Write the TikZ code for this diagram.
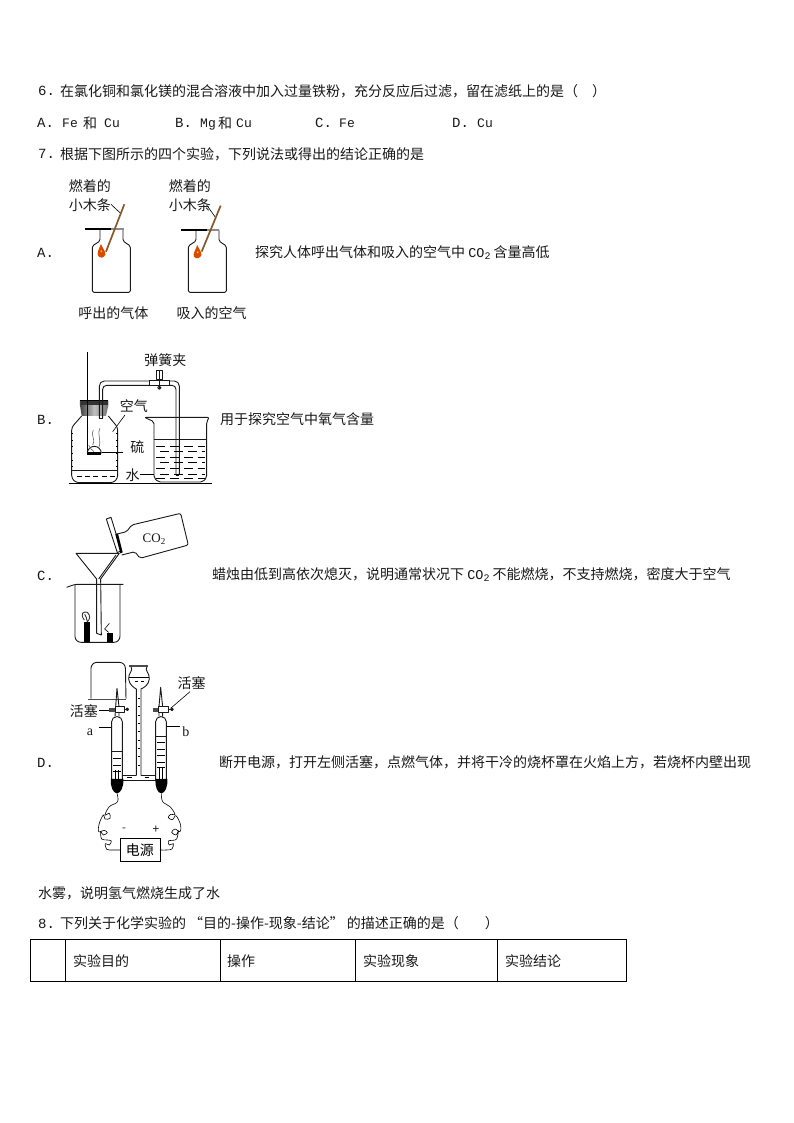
\documentclass[tikz,border=0pt]{standalone}
\usepackage{fontspec}
\setmainfont{Noto Sans CJK SC}
\setmonofont{Liberation Mono}
\newfontfamily\serifco{Liberation Serif}
\newcommand{\lat}[1]{{\ttfamily\fontsize{13}{13}\selectfont #1}}
\newcommand{\lbl}[1]{{\ttfamily\fontsize{14}{14}\selectfont #1}}
\newcommand{\cotwo}{{\ttfamily\fontsize{13.5}{13.5}\selectfont CO}{\fontsize{10}{10}\selectfont\raisebox{-2pt}{\ttfamily 2}}\hspace{3pt}}
\tikzset{
  txt/.style={anchor=west,inner sep=0pt,font=\fontsize{14}{14}\selectfont,text=black!90},
  ltxt/.style={anchor=base west,inner sep=0pt,text=black!90,yshift=-5pt},
  lab/.style={inner sep=0pt,font=\fontsize{14}{14}\selectfont,text=black!90},
  thin line/.style={draw=black,line width=.6pt},
  obj/.style={draw=black!90,line width=.9pt,line join=round},
  lead/.style={draw=black,line width=.6pt},
  dash row/.style={draw=black,line width=.6pt,dash pattern=on 9pt off 5pt},
  grid line/.style={draw=black,line width=1pt},
  za/.style={shift={(30,170)},x=.3333pt,y=-.3333pt},
  zb/.style={shift={(30,340)},x=.3333pt,y=-.3333pt},
  zc/.style={shift={(30,505)},x=.3333pt,y=-.3333pt},
  zd/.style={shift={(50,655)},x=.3333pt,y=-.3333pt},
}
\begin{document}
\begin{tikzpicture}[x=1pt,y=-1pt]
\useasboundingbox (0,0) rectangle (794,1123);
\fill[white] (0,0) rectangle (794,1123);
% ---------- question text
\node[ltxt] (q6n) at (38,91) {\lbl{6.}};
\node[txt] (q6) at (60,91) {在氯化铜和氯化镁的混合溶液中加入过量铁粉，充分反应后过滤，留在滤纸上的是（\hspace{14pt}）};
\node[ltxt] (o1a) at (37,123) {\lbl{A.}};
\node[ltxt] (o1b) at (62,123) {\lat{Fe}};
\node[txt] (o1c) at (83,123) {和};
\node[ltxt] (o1d) at (104,123) {\lat{Cu}};
\node[ltxt] (o2a) at (175,123) {\lbl{B.}};
\node[ltxt] (o2b) at (200,123) {\lat{Mg}};
\node[txt] (o2c) at (218,123) {和};
\node[ltxt] (o2d) at (236,123) {\lat{Cu}};
\node[ltxt] (o3a) at (315,123) {\lbl{C.}};
\node[ltxt] (o3b) at (339,123) {\lat{Fe}};
\node[ltxt] (o4a) at (452,123) {\lbl{D.}};
\node[ltxt] (o4b) at (477,123) {\lat{Cu}};
\node[ltxt] (q7n) at (38,154) {\lbl{7.}};
\node[txt] (q7) at (60,154) {根据下图所示的四个实验，下列说法或得出的结论正确的是};
\node[ltxt] (la) at (37,253) {\lbl{A.}};
\node[txt] (ta) at (255,253) {探究人体呼出气体和吸入的空气中 \cotwo{}含量高低};
\node[ltxt] (lb) at (37,419) {\lbl{B.}};
\node[txt] (tb) at (220,419) {用于探究空气中氧气含量};
\node[ltxt] (lc) at (37,575) {\lbl{C.}};
\node[txt] (tc) at (212,575) {蜡烛由低到高依次熄灭，说明通常状况下 \cotwo{}不能燃烧，不支持燃烧，密度大于空气};
\node[ltxt] (ld) at (37,762) {\lbl{D.}};
\node[txt] (td) at (219,762) {断开电源，打开左侧活塞，点燃气体，并将干冷的烧杯罩在火焰上方，若烧杯内壁出现};
\node[txt] (td2) at (38,893) {水雾，说明氢气燃烧生成了水};
\node[ltxt] (q8n) at (38,923) {\lbl{8.}};
\node[txt] (q8) at (60,923) {下列关于化学实验的\hspace{3pt}“目的-操作-现象-结论”\hspace{3pt}的描述正确的是（\hspace{26pt}）};
% ---------- table
\draw[grid line] (30,939) rectangle (626,981);
\foreach \cx in {65,220,355,497} \draw[grid line] (\cx,939) -- (\cx,981);
\node[txt] (c1) at (73,961) {实验目的};
\node[txt] (c2) at (227,961) {操作};
\node[txt] (c3) at (363,961) {实验现象};
\node[txt] (c4) at (505,961) {实验结论};
% ---------- A
\begin{scope}[za]
  \node[lab] (a1) at (180,48) {燃着的};
  \node[lab] (a2) at (180,105) {小木条};
  \node[lab] (a3) at (480,48) {燃着的};
  \node[lab] (a4) at (480,105) {小木条};
  \node[lab] (a5) at (250,430) {呼出的气体};
  \node[lab] (a6) at (545,430) {吸入的空气};
  \draw[lead] (243,103) -- (272,130);
  \draw[lead] (530,105) -- (555,140);
  % jar 1
  \draw[obj,rounded corners=1.5pt] (210,180) -- (210,213) -- (187,228) -- (187,367) -- (301,367) -- (301,228) -- (279,213) -- (279,180);
  \draw[line width=2.2pt,black] (165,178) -- (243,178);
  \draw[line width=2.2pt,black!45] (243,178) -- (281,178);
  \draw[line width=1.7pt,brown!70!black] (283,103) -- (228,245);
  \fill[orange!70!red!85!black] (213,222) .. controls (205,240) and (200,250) .. (205,258) .. controls (210,266) and (222,264) .. (226,254) .. controls (228,245) and (218,235) .. (213,222);
  \fill[yellow!70!orange] (214,244) circle (3);
  % jar 2
  \draw[obj,rounded corners=1.5pt] (498,180) -- (498,213) -- (475,228) -- (475,367) -- (589,367) -- (589,228) -- (567,213) -- (567,180);
  \draw[line width=2.2pt,black] (452,180) -- (530,180);
  \draw[line width=2.2pt,black!45] (530,180) -- (568,180);
  \draw[line width=1.7pt,brown!70!black] (572,107) -- (515,245);
  \fill[orange!70!red!85!black] (502,225) .. controls (495,243) and (488,252) .. (492,260) .. controls (497,268) and (510,266) .. (514,256) .. controls (516,247) and (507,238) .. (502,225);
  \fill[yellow!70!orange] (503,247) circle (3);
\end{scope}
% ---------- B
\begin{scope}[zb]
  \node[lab] (b1) at (406,60) {弹簧夹};
  \node[lab] (b2) at (312,197) {空气};
  \node[lab] (b3) at (322,320) {硫};
  \node[lab] (b4) at (308,405) {水};
  \draw[lead] (285,225) -- (248,275);
  \draw[lead] (215,338) -- (280,338);
  \draw[lead] (330,403) -- (372,403);
  % jar
  \draw[obj,rounded corners=3pt] (155,228) -- (125,262) -- (125,415) -- (138,428) -- (250,428) -- (263,415) -- (263,262) -- (235,228);
  \draw[obj] (125,392) -- (263,392);
  \foreach \tx in {140,165,190,215,240} \draw[thin line] (\tx,410) -- (\tx+15,410);
  \foreach \ty in {280,300,320,340,360,380} {\draw[thin line] (125,\ty) -- (130,\ty); \draw[thin line] (263,\ty) -- (258,\ty);}
  % stopper
  \shade[left color=black!75,right color=black!55,middle color=black!25] (150,182) -- (235,182) -- (235,196) -- (228,228) -- (155,228) -- (150,196) -- cycle;
  \draw[black,line width=1.2pt] (150,182) -- (235,182);
  \fill[black!80] (152,182) rectangle (233,194);
  % glass rod and spoon
  \draw[black,line width=.7pt] (172,36) -- (172,340);
  \draw[obj] (172,340) arc[start angle=180,end angle=360,radius=21];
  \fill[black] (172,336) rectangle (214,344);
  \draw[thin line,black!60] (190,270) .. controls (180,285) and (198,295) .. (188,315);
  \draw[thin line,black!60] (210,265) .. controls (200,285) and (216,295) .. (206,325);
  \draw[thin line,black!60] (176,315) .. controls (182,325) and (184,330) .. (192,335);
  % delivery tube
  \draw[obj,rounded corners=5pt] (208,235) -- (208,123) -- (448,123) -- (448,405);
  \draw[obj,rounded corners=4pt] (218,235) -- (218,136) -- (438,136) -- (438,405);
  \draw[obj] (208,235) -- (218,235);
  \draw[obj] (438,405) -- (448,405);
  % clip
  \draw[obj,fill=white] (358,122) rectangle (418,136);
  \draw[obj,fill=white] (380,92) rectangle (397,118);
  \draw[obj] (388,92) -- (388,148);
  \draw[obj] (388,143) circle (5);
  % beaker
  \draw[obj,rounded corners=2pt] (343,232) -- (538,232) -- (530,245) -- (530,413) -- (518,426) -- (385,426) -- (372,413) -- (372,245) -- cycle;
  \draw[obj] (372,298) -- (530,298);
  \foreach \ty/\xs in {318/378,335/390,352/378,368/390,385/378,402/390,415/378}
     \draw[dash row] (\xs,\ty) -- (525,\ty);
  \draw[black,line width=1.6pt] (117,431) -- (545,431);
\end{scope}
% ---------- C
\begin{scope}[zc]
  \node[lab,font=\serifco\fontsize{13}{13}\selectfont] (c5) at (372,103) {CO\raisebox{-2pt}{\fontsize{9}{9}\selectfont 2}};
  % bottle
  \draw[obj,fill=white] (229,42) -- (243,37) -- (274,137) -- (262,143) -- cycle;
  \draw[obj,rounded corners=2pt] (258,88) -- (290,80) -- (305,60) -- (452,25) -- (475,120) -- (330,160) -- (315,140) -- (275,150);
  \fill[black] (256,88) -- (264,86) -- (278,142) -- (271,145) -- cycle;
  % funnel
  \draw[obj] (138,145) -- (268,145) -- (212,222) -- (214,390) -- (200,385) -- (200,222) -- cycle;
  \draw[obj] (258,150) -- (206,222);
  % beaker
  \draw[obj,rounded corners=2pt] (110,247) -- (135,238) -- (280,238);
  \draw[obj,rounded corners=6pt] (135,238) -- (135,412) -- (270,412) -- (270,238);
  \fill[black] (162,352) rectangle (180,412);
  \fill[black] (232,385) rectangle (248,412);
  \draw[obj,black!80] (163,345) .. controls (148,325) and (162,318) .. (172,322) .. controls (182,330) and (180,345) .. (172,350) .. controls (168,340) and (170,332) .. (164,328);
  \draw[thin line] (238,355) -- (224,372) -- (236,382);
\end{scope}
% ---------- D
\begin{scope}[zd]
  \node[lab] (d1) at (102,168) {活塞};
  \node[lab] (d2) at (425,85) {活塞};
  \node[lab,font=\serifco\fontsize{14}{14}\selectfont] (d3) at (120,233) {a};
  \node[lab,font=\serifco\fontsize{14}{14}\selectfont] (d4) at (408,230) {b};
  \node[lab,font=\fontsize{11}{11}\selectfont] (d5) at (222,525) {-};
  \node[lab,font=\fontsize{12}{12}\selectfont] (d6) at (318,525) {+};
  \node[draw=black,line width=.9pt,minimum width=40pt,minimum height=23pt,inner sep=0pt,font=\fontsize{14}{14}\selectfont] (pw) at (270,586) {电源};
  \draw[lead] (148,165) -- (180,165);
  \draw[lead] (420,110) -- (362,160);
  \draw[lead] (147,217) -- (185,217);
  \draw[lead] (349,215) -- (390,215);
  % bell
  \draw[obj,rounded corners=6pt] (123,131) -- (123,22) -- (226,22) -- (228,131);
  \draw[black!70,line width=1.5pt] (115,133) -- (228,133);
  % funnel
  \draw[black!70,line width=1.5pt] (238,33) -- (295,33);
  \draw[obj] (243,35) .. controls (252,45) and (234,55) .. (236,72) .. controls (238,90) and (252,98) .. (259,102) -- (259,362);
  \draw[obj] (291,35) .. controls (282,45) and (300,55) .. (298,72) .. controls (296,90) and (282,98) .. (273,102) -- (273,362);
  \draw[thin line] (238,68) -- (296,68);
  \draw[thin line] (255,78) -- (265,78);
  \draw[thin line] (272,78) -- (282,78);
  \foreach \ty in {130,155,180,205,230,255,280,305,330} \draw[thin line] (263,\ty) -- (269,\ty);
  % left tube
  \draw[obj,rounded corners=5pt] (185,375) -- (185,185) -- (217,185) -- (217,375);
  \draw[obj] (195,185) -- (197,155) -- (201,100) -- (207,155) -- (207,185);
  \draw[obj] (185,290) -- (217,290);
  \foreach \ty in {310,330,348} \draw[thin line] (190,\ty) -- (212,\ty);
  \draw[thin line] (196,345) -- (196,375);
  \draw[thin line] (206,345) -- (206,375);
  % right tube
  \draw[obj,rounded corners=5pt] (317,375) -- (317,185) -- (349,185) -- (349,375);
  \draw[obj] (327,185) -- (327,155) -- (332,97) -- (338,155) -- (338,185);
  \draw[obj] (317,245) -- (349,245);
  \foreach \ty in {262,282,302,322,338} \draw[thin line] (322,\ty) -- (345,\ty);
  \draw[thin line] (327,340) -- (327,375);
  \draw[thin line] (338,340) -- (338,375);
  % connection
  \draw[obj] (217,360) -- (259,360);
  \draw[obj] (273,360) -- (317,360);
  \draw[obj] (217,376) -- (317,376);
  \draw[thin line] (232,368) -- (245,368);
  \draw[thin line] (285,368) -- (298,368);
  % clamps
  \fill[black!70] (178,158) rectangle (195,170);
  \draw[obj,fill=white] (195,155) rectangle (222,172);
  \draw[obj] (222,163) -- (235,163);
  \draw[obj] (232,163) circle (4);
  \fill[black!70] (310,158) rectangle (325,170);
  \draw[obj,fill=white] (325,155) rectangle (355,172);
  \draw[obj] (355,163) -- (370,163);
  \draw[obj] (366,163) circle (4);
  % electrodes
  \fill[black] (183,372) -- (220,372) .. controls (222,395) and (212,415) .. (201,415) .. controls (190,415) and (180,395) .. (183,372) -- cycle;
  \fill[black] (317,372) -- (352,372) .. controls (354,395) and (345,415) .. (334,415) .. controls (323,415) and (314,395) .. (317,372) -- cycle;
  % wires
  \draw[lead] plot[smooth,tension=.6] coordinates {(201,415) (203,440) (178,455) (165,480) (178,475) (180,490) (165,492) (160,480) (148,505) (146,530) (162,526) (172,533) (160,540) (152,530) (155,552) (172,555) (184,558) (178,570) (166,566) (170,583) (190,585) (210,585)};
  \draw[lead] plot[smooth,tension=.6] coordinates {(334,415) (338,440) (360,455) (375,478) (362,478) (355,488) (368,494) (378,482) (392,510) (390,530) (375,522) (365,532) (378,540) (385,528) (380,552) (368,556) (355,558) (358,570) (370,566) (366,582) (350,585) (330,585)};
\end{scope}
\end{tikzpicture}
\end{document}
